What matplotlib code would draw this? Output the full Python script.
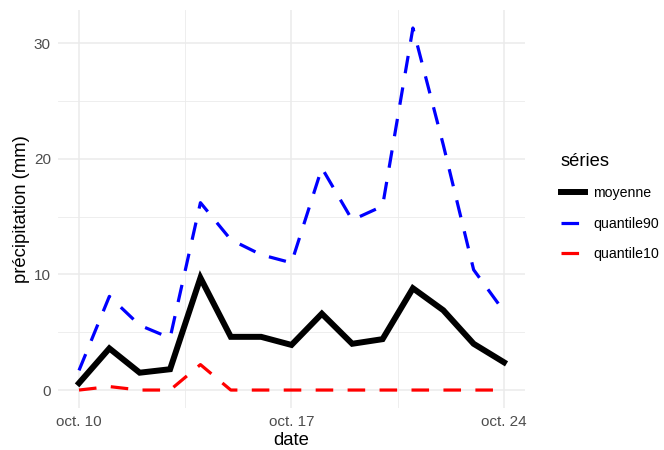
import matplotlib
matplotlib.use("Agg")
import matplotlib.pyplot as plt
from matplotlib.lines import Line2D
import pandas as pd

plt.rcParams["font.family"] = ["Liberation Sans", "DejaVu Sans"]

# daily precipitation statistics (mm)
dates = pd.to_datetime([
    "2023-10-10", "2023-10-11", "2023-10-12", "2023-10-13", "2023-10-14",
    "2023-10-15", "2023-10-16", "2023-10-17", "2023-10-18", "2023-10-19",
    "2023-10-20", "2023-10-21", "2023-10-22", "2023-10-23", "2023-10-24",
])
moyenne = [0.6, 3.6, 1.5, 1.8, 9.7, 4.6, 4.6, 3.9, 6.6, 4.0, 4.4, 8.8, 6.9, 4.0, 2.4]
quantile90 = [1.7, 8.1, 5.6, 4.5, 16.2, 13.0, 11.7, 11.0, 19.2, 14.7, 15.9, 31.3, 21.2, 10.4, 6.8]
quantile10 = [0.0, 0.3, 0.0, 0.0, 2.2, 0.0, 0.0, 0.0, 0.0, 0.0, 0.0, 0.0, 0.0, 0.0, 0.0]

series = ["moyenne", "quantile90", "quantile10"]

dash = (0, (5.5, 4.5))

fig = plt.figure(figsize=(6.64, 4.5), dpi=100)
ax = fig.add_axes([0.087, 0.093, 0.704, 0.885])

ax.plot(dates, quantile10, color="red", lw=2.3, linestyle=dash, dash_capstyle="butt")
ax.plot(dates, quantile90, color="blue", lw=2.3, linestyle=dash, dash_capstyle="butt")
ax.plot(dates, moyenne, color="black", lw=4.3, solid_joinstyle="miter")

# ggplot-like expansion
span = dates[-1] - dates[0]
ax.set_xlim(dates[0] - span * 0.05, dates[-1] + span * 0.05)
ymax = max(quantile90)
ax.set_ylim(-0.05 * ymax, ymax * 1.05)

ticks = [dates[0], dates[7], dates[14]]
ax.set_xticks(ticks)
ax.set_xticklabels(["oct. 10", "oct. 17", "oct. 24"])
minor = [dates[0] + (dates[7] - dates[0]) / 2, dates[7] + (dates[14] - dates[7]) / 2]
ax.set_xticks(minor, minor=True)
ax.set_yticks([0, 10, 20, 30])
ax.set_yticks([5, 15, 25], minor=True)

ax.grid(True, which="major", color="#ebebeb", lw=1.1)
ax.grid(True, which="minor", color="#ebebeb", lw=0.6)
ax.set_axisbelow(True)
for s in ax.spines.values():
    s.set_visible(False)
ax.tick_params(which="both", length=0, labelsize=11, labelcolor="#4d4d4d", pad=5)

ax.set_xlabel("date", fontsize=13.3, labelpad=2)
ax.set_ylabel("précipitation (mm)", fontsize=13.3, labelpad=3)

handles = [
    Line2D([], [], color="black", lw=4.3),
    Line2D([], [], color="blue", lw=2.3, linestyle=dash, dash_capstyle="butt"),
    Line2D([], [], color="red", lw=2.3, linestyle=dash, dash_capstyle="butt"),
]
leg = fig.legend(handles, series, title="séries", loc="center left",
                 bbox_to_anchor=(0.825, 0.54), frameon=False, fontsize=10.2,
                 title_fontsize=13.2, handlelength=1.7, labelspacing=1.15,
                 handletextpad=0.6, alignment="left")

fig.savefig("out.png", dpi=100)
